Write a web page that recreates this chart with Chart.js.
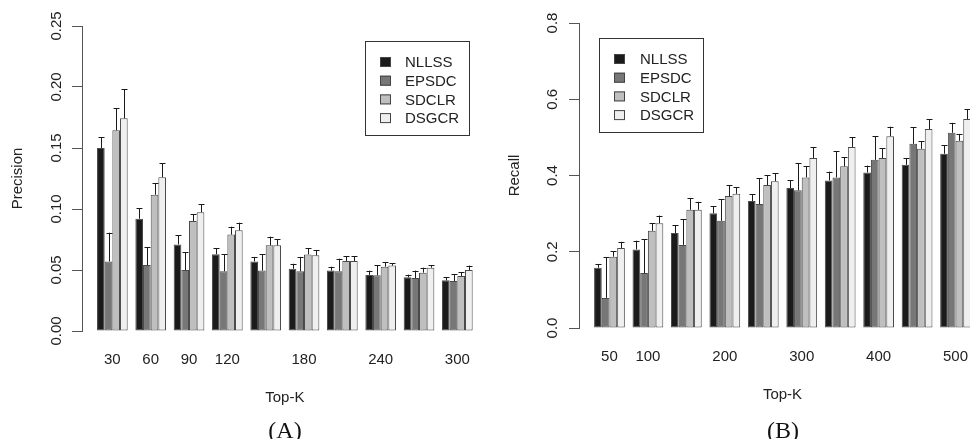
<!DOCTYPE html>
<html>
<head>
<meta charset="utf-8">
<script src="https://cdn.jsdelivr.net/npm/chart.js@4.4.1/dist/chart.umd.min.js"></script>
<style>
    body { margin: 0; width: 970px; height: 439px; overflow: hidden; position: relative; background: #fff; }
    .panel { position: absolute; top: 0; height: 439px; }
    .cap { position: absolute; top: 430px; transform: translate(-50%, -50%); font: 24px 'Liberation Serif', serif; color: #111; line-height: 1; }
</style>
</head>
<body>
<div class="panel" style="left:0;width:490px"><canvas id="chartA"></canvas></div>
<div class="panel" style="left:490px;width:500px"><canvas id="chartB"></canvas></div>
<div class="cap" style="left:285px">(A)</div>
<div class="cap" style="left:783px">(B)</div>
<script>
/* ==========================================================================
   DATA
   ========================================================================== */
const methods = ['NLLSS', 'EPSDC', 'SDCLR', 'DSGCR'];
const barColors = ['#1b1b1b', '#777777', '#bfbfbf', '#efefef'];

// (A) Precision
const topKA = [30, 60, 90, 120, 150, 180, 210, 240, 270, 300];
const xLabelsA = ['30', '60', '90', '120', '', '180', '', '240', '', '300'];
const yTicksA = [0, 0.05, 0.10, 0.15, 0.20, 0.25];
const nllssA = [0.150, 0.092, 0.071, 0.063, 0.057, 0.051, 0.0495, 0.046, 0.044, 0.0415];
const epsdcA = [0.057, 0.054, 0.050, 0.049, 0.0495, 0.049, 0.049, 0.0456, 0.0434, 0.041];
const sdclrA = [0.1645, 0.1117, 0.0902, 0.079, 0.0702, 0.0628, 0.0574, 0.0527, 0.0478, 0.0451];
const dsgcrA = [0.1743, 0.126, 0.0973, 0.0825, 0.0702, 0.062, 0.0574, 0.0536, 0.0519, 0.050];
const nllssErrA = [0.009, 0.0085, 0.0074, 0.0048, 0.0037, 0.0041, 0.0032, 0.0035, 0.0022, 0.0025];
const epsdcErrA = [0.0236, 0.0146, 0.0145, 0.0138, 0.0136, 0.0117, 0.0103, 0.0085, 0.0061, 0.0054];
const sdclrErrA = [0.018, 0.0096, 0.0054, 0.0065, 0.0071, 0.005, 0.0038, 0.0039, 0.0041, 0.003];
const dsgcrErrA = [0.0237, 0.0114, 0.0065, 0.0063, 0.0049, 0.0041, 0.0038, 0.0021, 0.0022, 0.0036];

// (B) Recall
const topKB = [50, 100, 150, 200, 250, 300, 350, 400, 450, 500];
const xLabelsB = ['50', '100', '', '200', '', '300', '', '400', '', '500'];
const yTicksB = [0, 0.2, 0.4, 0.6, 0.8];
const nllssB = [0.158, 0.206, 0.249, 0.301, 0.333, 0.367, 0.387, 0.408, 0.428, 0.457];
const epsdcB = [0.079, 0.144, 0.218, 0.281, 0.325, 0.361, 0.395, 0.441, 0.483, 0.512];
const sdclrB = [0.187, 0.255, 0.310, 0.346, 0.375, 0.395, 0.424, 0.446, 0.470, 0.491];
const dsgcrB = [0.210, 0.275, 0.310, 0.352, 0.385, 0.446, 0.475, 0.503, 0.522, 0.548];
const nllssErrB = [0.010, 0.023, 0.020, 0.019, 0.0185, 0.020, 0.023, 0.018, 0.017, 0.022];
const epsdcErrB = [0.106, 0.089, 0.067, 0.057, 0.068, 0.072, 0.068, 0.062, 0.043, 0.026];
const sdclrErrB = [0.014, 0.020, 0.031, 0.029, 0.026, 0.029, 0.024, 0.025, 0.020, 0.018];
const dsgcrErrB = [0.016, 0.020, 0.021, 0.017, 0.021, 0.029, 0.025, 0.025, 0.026, 0.026];

/* ==========================================================================
   PLUGINS (error bars + boxed legend)
   ========================================================================== */
const FONT = "'Liberation Sans', Arial, sans-serif";
const INK = '#222';

const errorBars = {
    id: 'errorBars',
    afterDatasetsDraw(chart) {
        const ctx = chart.ctx;
        const yScale = chart.scales.y;
        ctx.save();
        ctx.strokeStyle = '#1a1a1a';
        ctx.lineWidth = 1;
        chart.data.datasets.forEach((ds, d) => {
            const meta = chart.getDatasetMeta(d);
            meta.data.forEach((bar, i) => {
                const v = ds.data[i].y;
                const top = yScale.getPixelForValue(v + ds.errors[i]);
                const x = Math.round(bar.x) + 0.5;
                ctx.beginPath();
                ctx.moveTo(x, bar.y);
                ctx.lineTo(x, top);
                ctx.moveTo(x - 3, Math.round(top) + 0.5);
                ctx.lineTo(x + 3, Math.round(top) + 0.5);
                ctx.stroke();
            });
        });
        ctx.restore();
    }
};

const boxLegend = {
    id: 'boxLegend',
    afterDraw(chart, args, opts) {
        const ctx = chart.ctx;
        ctx.save();
        ctx.strokeStyle = '#333';
        ctx.lineWidth = 1;
        ctx.strokeRect(opts.x + 0.5, opts.y + 0.5, opts.w, opts.h);
        ctx.font = '15px ' + FONT;
        ctx.textBaseline = 'middle';
        ctx.fillStyle = INK;
        chart.data.datasets.forEach((ds, i) => {
            const cy = opts.y + opts.first + i * opts.step;
            ctx.fillStyle = ds.backgroundColor;
            ctx.fillRect(opts.x + opts.sw, cy - 5, 11, 10);
            ctx.strokeStyle = '#444';
            ctx.strokeRect(opts.x + opts.sw + 0.5, cy - 5 + 0.5, 10, 9);
            ctx.fillStyle = INK;
            ctx.fillText(ds.label, opts.x + opts.tx, cy + 1);
        });
        ctx.restore();
    }
};

/* ==========================================================================
   CHART BUILDER
   ========================================================================== */
function buildDatasets(series, errs) {
    return series.map((vals, s) => ({
        label: methods[s],
        data: vals.map((v, i) => ({ x: i, y: v })),
        errors: errs[s],
        backgroundColor: barColors[s],
        borderColor: '#4a4a4a',
        borderWidth: 1,
        borderSkipped: false,
        categoryPercentage: 0.8,
        barPercentage: 1.0
    }));
}

function makeChart(id, cfg) {
    return new Chart(document.getElementById(id), {
        type: 'bar',
        data: { datasets: buildDatasets(cfg.series, cfg.errs) },
        options: {
            responsive: true,
            maintainAspectRatio: false,
            animation: false,
            layout: { padding: cfg.padding },
            plugins: {
                legend: { display: false },
                tooltip: { enabled: false },
                boxLegend: cfg.legend
            },
            scales: {
                x: {
                    type: 'linear',
                    offset: false,
                    min: -0.792,
                    max: 9.792,
                    afterBuildTicks: axis => { axis.ticks = cfg.xLabels.map((_, i) => ({ value: i })); },
                    afterFit: axis => { axis.height = 76; },
                    border: { display: false },
                    grid: { display: false, drawTicks: false },
                    ticks: {
                        autoSkip: false,
                        maxRotation: 0,
                        padding: 20,
                        color: INK,
                        font: { family: FONT, size: 15 },
                        callback: v => cfg.xLabels[v]
                    },
                    title: {
                        display: true,
                        text: 'Top-K',
                        color: INK,
                        font: { family: FONT, size: 15 },
                        padding: { top: 0, bottom: 0 }
                    }
                },
                y: {
                    min: 0,
                    max: cfg.yTicks[cfg.yTicks.length - 1],
                    afterBuildTicks: axis => { axis.ticks = cfg.yTicks.map(v => ({ value: v })); },
                    afterFit: axis => { axis.width = cfg.yWidth; },
                    border: { display: true, color: '#555', width: 1 },
                    grid: { drawOnChartArea: false, drawTicks: true, tickLength: 10, color: '#555' },
                    ticks: {
                        autoSkip: false,
                        minRotation: 90,
                        maxRotation: 90,
                        crossAlign: 'center',
                        padding: cfg.tickPad,
                        color: INK,
                        font: { family: FONT, size: 15 },
                        callback: v => v.toFixed(cfg.digits)
                    },
                    title: {
                        display: true,
                        text: cfg.yTitle,
                        color: INK,
                        font: { family: FONT, size: 15 },
                        padding: { top: cfg.titlePad, bottom: 0 }
                    }
                }
            }
        },
        plugins: [errorBars, boxLegend]
    });
}

makeChart('chartA', {
    series: [nllssA, epsdcA, sdclrA, dsgcrA],
    errs: [nllssErrA, epsdcErrA, sdclrErrA, dsgcrErrA],
    xLabels: xLabelsA,
    yTicks: yTicksA,
    digits: 2,
    yTitle: 'Precision',
    yWidth: 82,
    tickPad: 1,
    titlePad: 9,
    padding: { left: 0, top: 26, right: 2, bottom: 32 },
    legend: { x: 365, y: 41, w: 104, h: 94, sw: 15, tx: 40, first: 21, step: 18.7 }
});

makeChart('chartB', {
    series: [nllssB, epsdcB, sdclrB, dsgcrB],
    errs: [nllssErrB, epsdcErrB, sdclrErrB, dsgcrErrB],
    xLabels: xLabelsB,
    yTicks: yTicksB,
    digits: 1,
    yTitle: 'Recall',
    yWidth: 89,
    tickPad: 6,
    titlePad: 16,
    padding: { left: 0, top: 23, right: 4, bottom: 35 },
    legend: { x: 109, y: 38, w: 104, h: 94, sw: 15, tx: 41, first: 21, step: 18.7 }
});
</script>
</body>
</html>
